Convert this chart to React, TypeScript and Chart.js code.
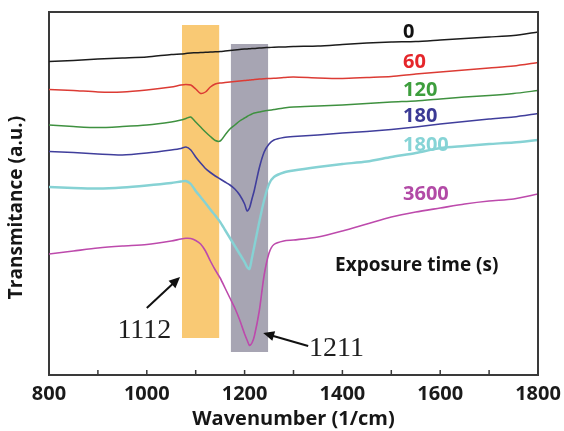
import React, { useEffect, useRef } from "react";
import { Chart, registerables } from "chart.js";

Chart.register(...registerables);

// Wavenumber grid (1/cm)
const wavenumbers = [
  800, 850, 900, 950, 1000, 1050, 1070, 1080, 1090, 1100, 1110, 1120, 1130, 1140, 1150, 1160, 1170, 1180,
  1190, 1200, 1205, 1210, 1215, 1220, 1230, 1240, 1250, 1260, 1280, 1300, 1350, 1400, 1450, 1500, 1550,
  1600, 1650, 1700, 1750, 1800,
];

// Transmittance (a.u.) per exposure time
const t0 = [
  313.5, 314.5, 316, 317, 318, 320.5, 321, 321.5, 322, 322.2, 322.5, 322.7, 323, 323.2, 323.5, 324, 324.5, 325,
  325.5, 326, 326, 326.2, 326.4, 326.5, 327, 327.3, 327.5, 327.8, 328, 328.5, 329, 330.5, 332, 333, 333.5,
  335, 336.5, 338, 339.5, 343,
];
const t60 = [
  285.5, 284.5, 283, 283, 285, 288, 290, 290.5, 290, 286, 281.5, 283, 288, 291, 292, 292.5, 293, 293.5,
  294, 294.5, 294.7, 295, 295.2, 295.5, 296, 296.3, 296.5, 296.7, 297.5, 298, 297, 296.5, 297.5, 298.5, 301,
  303, 305, 307, 309, 312.5,
];
const t120 = [
  250, 248.5, 247.5, 248.5, 250, 253, 255, 256.5, 258, 253, 248, 243, 238.5, 234.5, 234, 240, 246, 250,
  254, 257, 258.5, 259.8, 261, 262, 263, 264, 264.7, 265.5, 267, 268, 269, 270, 271.5, 273, 274,
  276, 278, 279.5, 281.5, 284.5,
];
const t180 = [
  223.5, 222.5, 221, 220, 222, 225, 226.5, 228, 225, 218, 212, 206.5, 202.5, 199, 196, 193, 190, 186,
  180, 171, 164, 167, 176, 185, 207, 223, 231, 235, 237.5, 238.5, 240, 242, 243.5, 245.5, 248,
  251, 253.5, 256, 258, 261.5,
];
const t1800 = [
  188, 187, 186.5, 187.5, 189.5, 192, 193.5, 194, 191, 184, 178, 172, 165.5, 159.5, 153, 145, 137, 129,
  121, 113, 108, 106, 117, 129, 153, 175, 191, 198, 202.5, 204.5, 208, 211, 213.5, 218, 222,
  227, 229, 231, 232.5, 235,
];
const t3600 = [
  121, 124, 127, 129, 130.5, 134, 136, 136.7, 136.5, 134.5, 131, 124, 114, 105, 97, 87, 77, 67,
  55, 41, 35, 29.5, 32, 39, 64, 100, 122, 130.5, 134, 135, 138, 144, 151, 158, 163,
  167, 171, 174, 176, 181,
];

const seriesLabels = ["0", "60", "120", "180", "1800", "3600"];
const seriesValues = [t0, t60, t120, t180, t1800, t3600];
const seriesLabelY = [343, 313, 285, 259, 230, 180.5];
const seriesLabelX = 1524;

const lineColors = ["#1c1c1c", "#dc3b34", "#3f9140", "#403e9c", "#86d2d4", "#bd4aac"];
const labelColors = ["#111111", "#e5262b", "#3d9e3d", "#3b3a95", "#86d4d6", "#b24aa6"];
const lineWidths = [1.5, 1.5, 1.5, 1.6, 2.4, 1.6];

const xMajorTicks = [800, 1000, 1200, 1400, 1600, 1800];
const xMinorTicks = [800, 900, 1000, 1100, 1200, 1300, 1400, 1500, 1600, 1700, 1800];

// Highlight bands: [fromX, toX, bottomY, topY]
const orangeBand = [1072, 1148, 37, 350];
const grayBand = [1172, 1248, 23, 331];

// Peak annotations: label, label x/y, arrow tail x/y, arrow head x/y
const peak1112 = { text: "1112", lx: 995, ly: 44, tx: 1000, ty: 67, hx: 1068, hy: 98 };
const peak1211 = { text: "1211", lx: 1388, ly: 26.5, tx: 1330, ty: 29, hx: 1238, hy: 42 };
const exposureNote = { text: "Exposure time (s)", x: 1552, y: 109 };

const frameColor = "#3a3a3a";

const bandPlugin = {
  id: "bands",
  beforeDatasetsDraw(chart: any) {
    const { ctx } = chart;
    const xs = chart.scales.x;
    const ys = chart.scales.y;
    const drawBand = (b: number[], color: string) => {
      const x0 = xs.getPixelForValue(b[0]);
      const x1 = xs.getPixelForValue(b[1]);
      const y0 = ys.getPixelForValue(b[3]);
      const y1 = ys.getPixelForValue(b[2]);
      ctx.save();
      ctx.fillStyle = color;
      ctx.fillRect(x0, y0, x1 - x0, y1 - y0);
      ctx.restore();
    };
    drawBand(orangeBand, "rgba(248,196,104,0.92)");
    drawBand(grayBand, "rgba(160,157,172,0.92)");
  },
};

const overlayPlugin = {
  id: "overlay",
  afterDraw(chart: any) {
    const ctx = chart.ctx;
    const xs = chart.scales.x;
    const ys = chart.scales.y;
    const left = xs.getPixelForValue(800);
    const right = xs.getPixelForValue(1800);
    const top = ys.getPixelForValue(363);
    const bottom = ys.getPixelForValue(0);
    ctx.save();
    // frame top and right (left/bottom drawn by the axes' borders)
    ctx.fillStyle = frameColor;
    const w = 2;
    ctx.fillRect(left - 1, top - 1, right - left + 2, w);
    ctx.fillRect(right - 1, top - 1, w, bottom - top + 2);
    // inward tick marks
    xMinorTicks.forEach((v) => {
      const px = xs.getPixelForValue(v);
      ctx.fillRect(px - 0.75, bottom - 5, 1.5, 5);
    });
    // series labels
    ctx.font = "bold 20px 'Open Sans'";
    ctx.textAlign = "left";
    ctx.textBaseline = "middle";
    seriesLabels.forEach((s, i) => {
      ctx.fillStyle = labelColors[i];
      ctx.fillText(s, xs.getPixelForValue(seriesLabelX), ys.getPixelForValue(seriesLabelY[i]));
    });
    // exposure note
    ctx.fillStyle = "#141414";
    ctx.font = "bold 19px 'Open Sans'";
    ctx.textAlign = "center";
    ctx.fillText(exposureNote.text, xs.getPixelForValue(exposureNote.x), ys.getPixelForValue(exposureNote.y));
    // peak annotations
    const drawPeak = (p: any) => {
      ctx.fillStyle = "#1e1e1e";
      ctx.font = "28px 'Liberation Serif'";
      ctx.textAlign = "center";
      ctx.textBaseline = "middle";
      ctx.fillText(p.text, xs.getPixelForValue(p.lx), ys.getPixelForValue(p.ly));
      const x0 = xs.getPixelForValue(p.tx);
      const y0 = ys.getPixelForValue(p.ty);
      const x1 = xs.getPixelForValue(p.hx);
      const y1 = ys.getPixelForValue(p.hy);
      const ang = Math.atan2(y1 - y0, x1 - x0);
      const hl = 11;
      const hw = 5;
      ctx.strokeStyle = "#111";
      ctx.lineWidth = 2;
      ctx.beginPath();
      ctx.moveTo(x0, y0);
      ctx.lineTo(x1 - Math.cos(ang) * hl * 0.8, y1 - Math.sin(ang) * hl * 0.8);
      ctx.stroke();
      ctx.fillStyle = "#111";
      ctx.beginPath();
      ctx.moveTo(x1, y1);
      ctx.lineTo(x1 - Math.cos(ang) * hl - Math.sin(ang) * hw, y1 - Math.sin(ang) * hl + Math.cos(ang) * hw);
      ctx.lineTo(x1 - Math.cos(ang) * hl + Math.sin(ang) * hw, y1 - Math.sin(ang) * hl - Math.cos(ang) * hw);
      ctx.closePath();
      ctx.fill();
    };
    drawPeak(peak1112);
    drawPeak(peak1211);
    // y-axis title
    ctx.save();
    ctx.translate(17, (top + bottom) / 2 + 14);
    ctx.rotate(-Math.PI / 2);
    ctx.fillStyle = "#161616";
    ctx.font = "bold 19px 'Open Sans'";
    ctx.textAlign = "center";
    ctx.textBaseline = "middle";
    ctx.fillText("Transmitance (a.u.)", 0, 0);
    ctx.restore();
    ctx.restore();
  },
};

export default function App() {
  const canvasRef = useRef<HTMLCanvasElement | null>(null);

  useEffect(() => {
    if (!canvasRef.current) return;
    const chart = new Chart(canvasRef.current, {
      type: "line",
      data: {
        datasets: seriesLabels.map((s, i) => ({
          label: s,
          data: wavenumbers.map((w, j) => ({ x: w, y: seriesValues[i][j] })),
          borderColor: lineColors[i],
          borderWidth: lineWidths[i],
          pointRadius: 0,
          tension: 0.25,
          fill: false,
        })),
      },
      options: {
        animation: false,
        responsive: false,
        devicePixelRatio: 1,
        layout: { padding: { top: 12, right: 26, left: 0, bottom: 0 } },
        plugins: { legend: { display: false }, tooltip: { enabled: false } },
        scales: {
          x: {
            type: "linear",
            min: 800,
            max: 1800,
            afterBuildTicks: (scale: any) => {
              scale.ticks = xMajorTicks.map((v) => ({ value: v }));
            },
            afterFit: (scale: any) => {
              scale.height = 56;
              scale.paddingLeft = 0;
              scale.paddingRight = 0;
            },
            grid: { display: false, drawTicks: false },
            border: { display: true, color: frameColor, width: 2 },
            ticks: {
              padding: 7,
              color: "#1a1a1a",
              font: { family: "'Open Sans'", size: 20, weight: "bold" },
              maxRotation: 0,
              callback: (v: any) => String(v),
            },
            title: {
              display: true,
              text: "Wavenumber (1/cm)",
              color: "#161616",
              padding: { top: 0, bottom: 0 },
              font: { family: "'Open Sans'", size: 20, weight: "bold" },
            },
          },
          y: {
            type: "linear",
            min: 0,
            max: 363,
            afterFit: (scale: any) => {
              scale.width = 49;
              scale.paddingTop = 0;
              scale.paddingBottom = 0;
            },
            grid: { display: false, drawTicks: false },
            border: { display: true, color: frameColor, width: 2 },
            ticks: { display: false },
          },
        },
      },
      plugins: [bandPlugin, overlayPlugin],
    } as any);
    return () => chart.destroy();
  }, []);

  return (
    <div style={{ position: "fixed", left: 0, top: 0, width: 564, height: 431, background: "#fff" }}>
      <canvas ref={canvasRef} width={564} height={431} />
    </div>
  );
}
